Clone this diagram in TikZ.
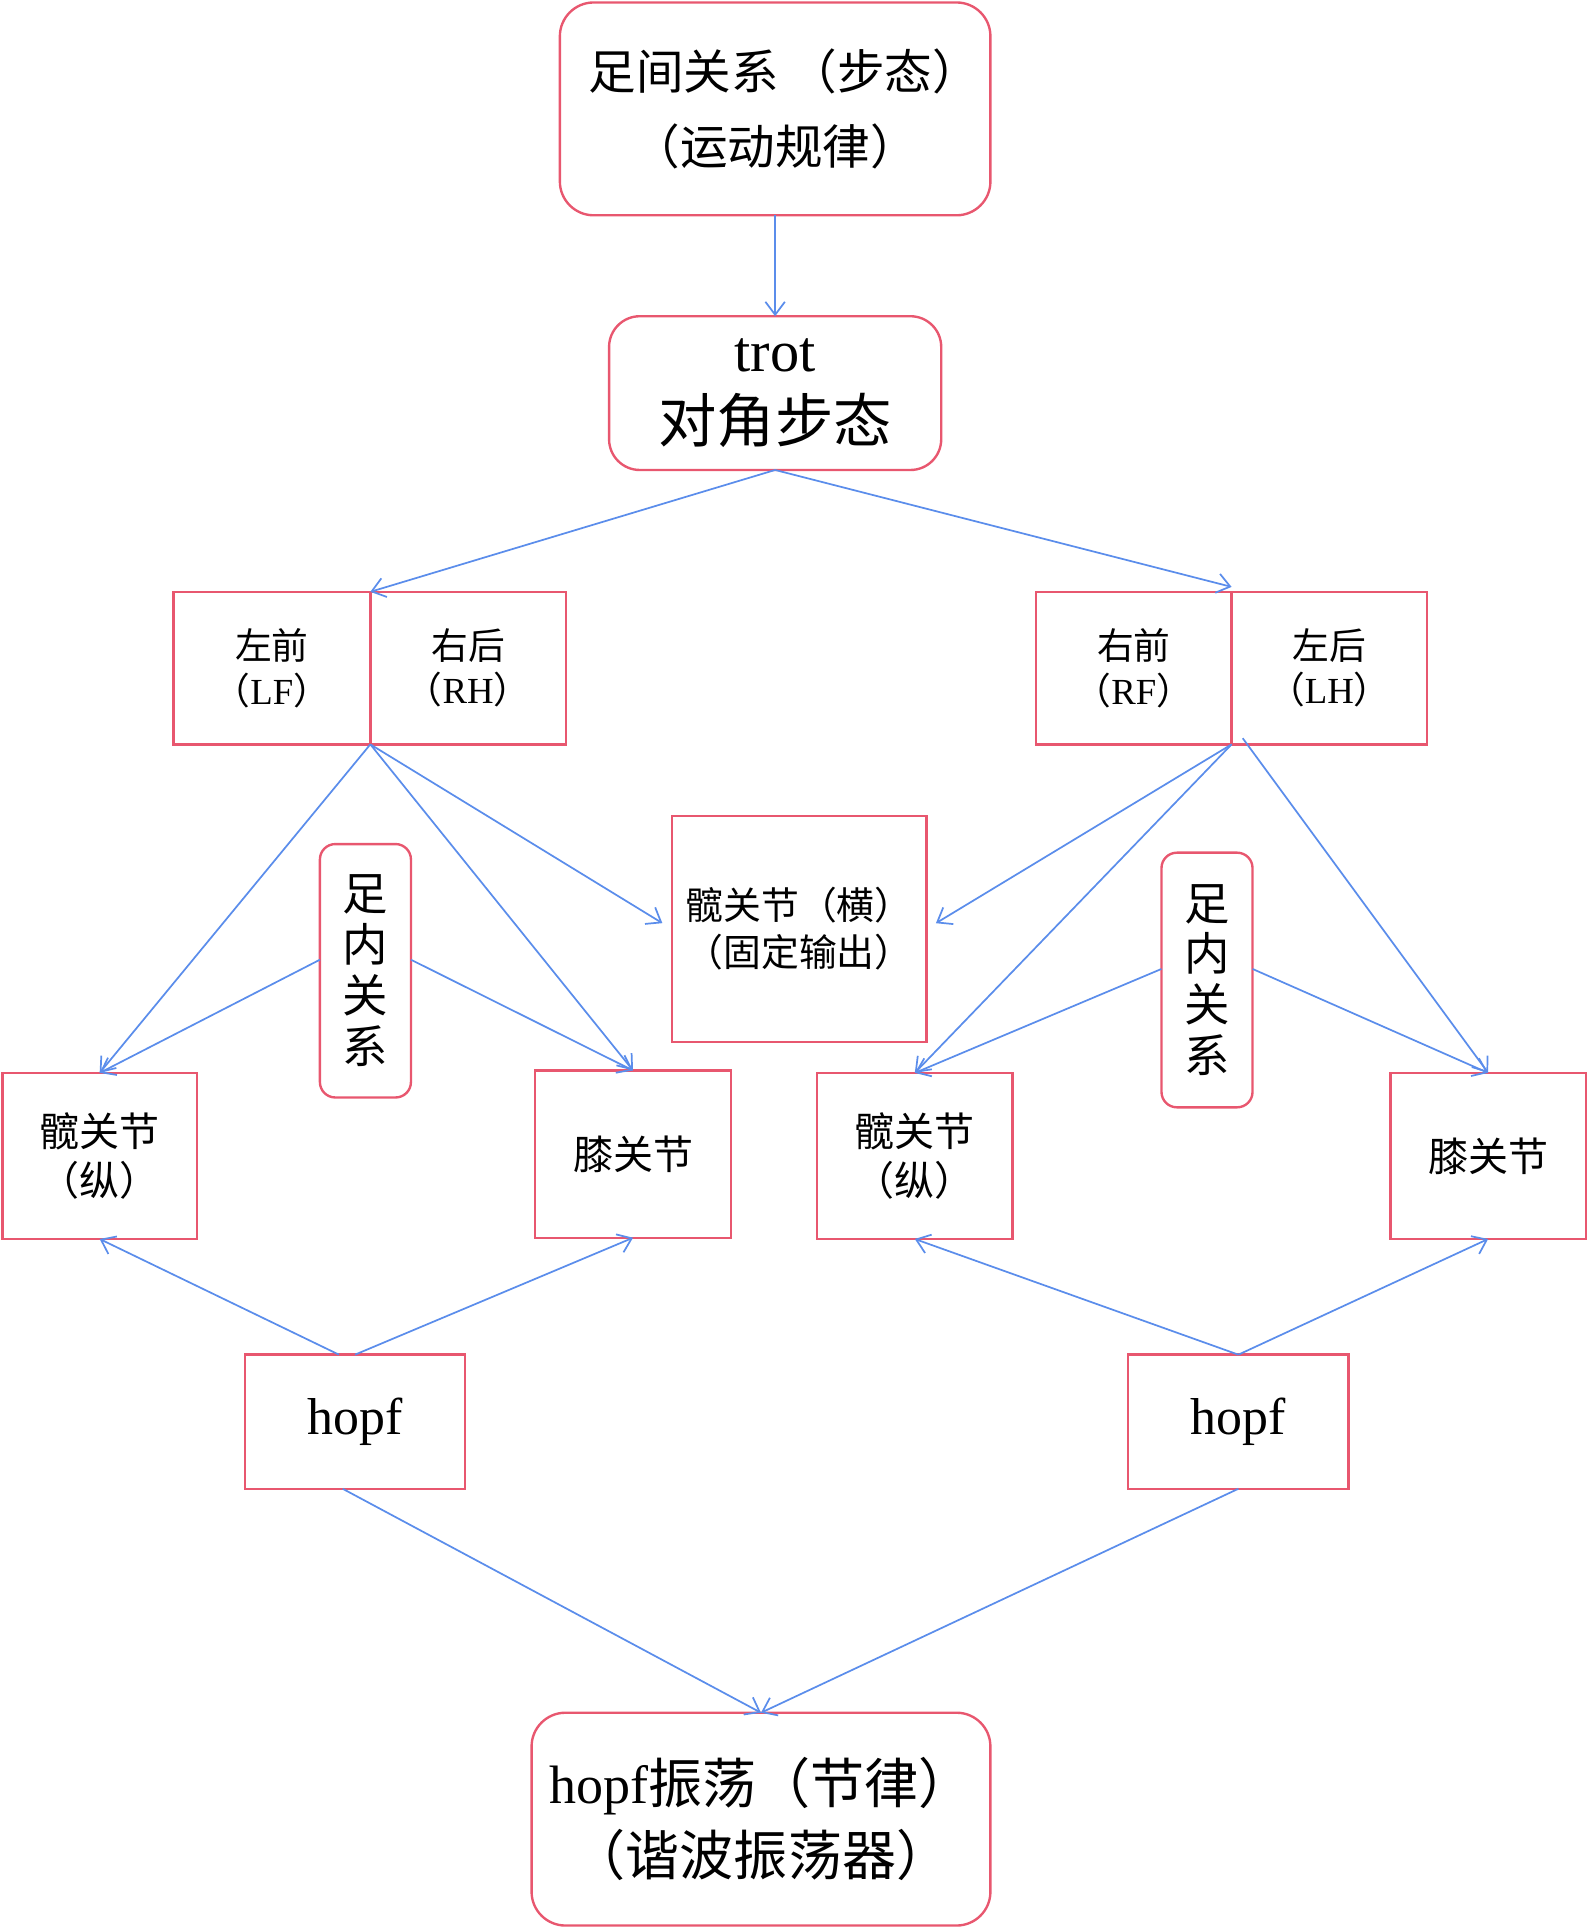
\documentclass[tikz,border=0pt]{standalone}
\usepackage{fontspec}
\setmainfont{Liberation Serif}
\newfontfamily\cjk{Noto Sans CJK SC}
\usetikzlibrary{arrows.meta}
\definecolor{boxred}{RGB}{232,87,111}
\definecolor{linkblue}{RGB}{91,141,235}
\newcommand\lat[1]{{\rmfamily #1}}
\newcommand\fs[2]{\cjk\fontsize{#1}{#2}\selectfont}
\tikzset{
  box/.style={draw=boxred,line width=1.1pt,inner sep=0pt,outer sep=0pt,align=center},
  rbox/.style={box,rounded corners=0.55cm},
  link/.style={draw=linkblue,line width=0.8pt,-{Straight Barb[length=6pt,width=9pt]}},
}
\begin{document}
\begin{tikzpicture}[x=0.02cm,y=-0.02cm]
\useasboundingbox (0,0) rectangle (1290,1567);
% gait level
\node (gait) [rbox,minimum width=7cm,minimum height=3.46cm,font=\fs{22pt}{35pt}] at (630,88.5)
  {\hspace{0.3cm}足间关系 （步态）\\（运动规律）};
\node (trot) [rbox,rounded corners=0.5cm,minimum width=5.4cm,minimum height=2.5cm,font=\fs{27pt}{33pt}] at (630,319.5)
  {\lat{trot}\\对角步态};
% leg pairs
\node (lf) [box,minimum width=3.2cm,minimum height=2.48cm,font=\fs{17pt}{20.5pt}] at (221,543) {左前\\（\lat{LF}）};
\node (rh) [box,minimum width=3.18cm,minimum height=2.48cm,font=\fs{17pt}{20.5pt}] at (380.5,543) {右后\\（\lat{RH}）};
\node (rf) [box,minimum width=3.18cm,minimum height=2.48cm,font=\fs{17pt}{20.5pt}] at (921.5,543) {右前\\（\lat{RF}）};
\node (lh) [box,minimum width=3.18cm,minimum height=2.48cm,font=\fs{17pt}{20.5pt}] at (1080.5,543) {左后\\（\lat{LH}）};
% joints
\node (side) [box,minimum width=4.14cm,minimum height=3.68cm,font=\fs{17.5pt}{21.6pt}] at (649.5,755)
  {髋关节（横）\\（固定输出）};
\node (inl) [rbox,rounded corners=0.25cm,minimum width=1.48cm,minimum height=4.12cm,font=\fs{21pt}{23.5pt}] at (297,789)
  {足\\内\\关\\系};
\node (inr) [rbox,rounded corners=0.25cm,minimum width=1.48cm,minimum height=4.14cm,font=\fs{21pt}{23.5pt}] at (981,796.5)
  {足\\内\\关\\系};
\node (hipl) [box,minimum width=3.16cm,minimum height=2.7cm,font=\fs{18.5pt}{23pt}] at (81,939.5) {髋关节\\（纵）};
\node (kneel) [box,minimum width=3.18cm,minimum height=2.72cm,font=\fs{18.5pt}{23pt}] at (514.5,938) {膝关节};
\node (hipr) [box,minimum width=3.18cm,minimum height=2.7cm,font=\fs{18.5pt}{23pt}] at (743.5,939.5) {髋关节\\（纵）};
\node (kneer) [box,minimum width=3.18cm,minimum height=2.7cm,font=\fs{18.5pt}{23pt}] at (1209.5,939.5) {膝关节};
% oscillators
\node (hopfl) [box,minimum width=3.58cm,minimum height=2.18cm,font=\rmfamily\fontsize{24pt}{28pt}\selectfont] at (288.5,1155.5) {hopf};
\node (hopfr) [box,minimum width=3.58cm,minimum height=2.18cm,font=\rmfamily\fontsize{24pt}{28pt}\selectfont] at (1006.5,1155.5) {hopf};
\node (osc) [rbox,minimum width=7.46cm,minimum height=3.46cm,font=\fs{25pt}{33.6pt}] at (618.5,1478.5)
  {\lat{hopf}振荡（节律）\\（谐波振荡器）};
% links
\draw [link] (gait.south) -- (trot.north);
\draw [link] (trot.south) -- (lf.north east);
\draw [link] (trot.south) -- ([yshift=0.08cm]rf.north east);
\draw [link] (lf.south east) -- (hipl.north);
\draw [link] (lf.south east) -- (kneel.north);
\draw [link,shorten >=0.18cm] (lf.south east) -- (side.west);
\draw [link] ([yshift=0.18cm]inl.west) -- (hipl.north);
\draw [link] ([yshift=0.18cm]inl.east) -- (kneel.north);
\draw [link,shorten >=0.18cm] (rf.south east) -- (side.east);
\draw [link] (rf.south east) -- (hipr.north);
\draw [link] ([xshift=0.18cm,yshift=0.1cm]lh.south west) -- (kneer.north);
\draw [link] ([yshift=0.18cm]inr.west) -- (hipr.north);
\draw [link] ([yshift=0.18cm]inr.east) -- (kneer.north);
\draw [link] ([xshift=-0.26cm]hopfl.north) -- (hipl.south);
\draw [link] (hopfl.north) -- (kneel.south);
\draw [link] (hopfr.north) -- (hipr.south);
\draw [link] (hopfr.north) -- (kneer.south);
\draw [link] ([xshift=-0.2cm]hopfl.south) -- (osc.north);
\draw [link] (hopfr.south) -- (osc.north);
\end{tikzpicture}
\end{document}
